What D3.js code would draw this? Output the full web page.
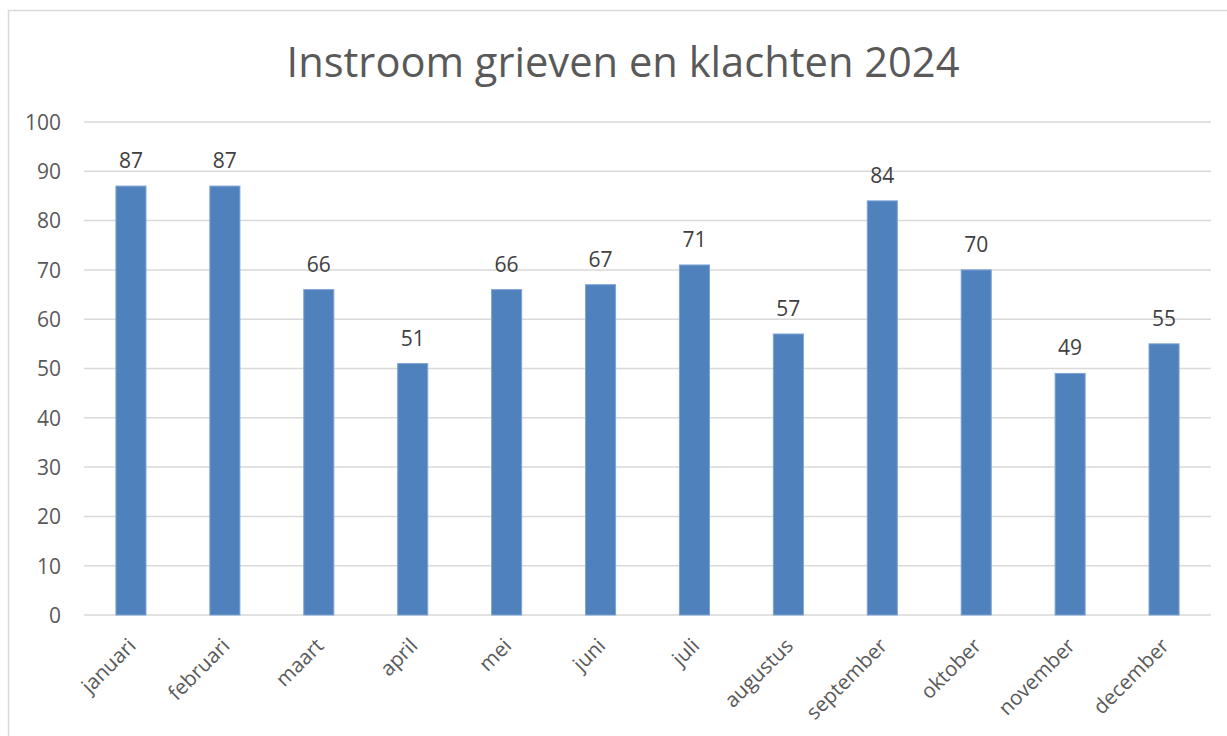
<!DOCTYPE html>
<html><head><meta charset="utf-8">
<script src="https://cdn.jsdelivr.net/npm/d3@7"></script>
<style>body{margin:0;background:#fff;}svg{display:block;}</style>
</head><body>
<svg id="c" width="1227" height="736"></svg>
<script>
const title = "Instroom grieven en klachten 2024";
const months = ["januari","februari","maart","april","mei","juni","juli","augustus","september","oktober","november","december"];
const values = [87,87,66,51,66,67,71,57,84,70,49,55];
const yTicks = [0,10,20,30,40,50,60,70,80,90,100];

(function(){
const svg = d3.select("#c");
const font = "'Open Sans', sans-serif";
// chart border
svg.append("rect").attr("x",8.5).attr("y",10.5).attr("width",1240).attr("height",740)
  .attr("fill","#fff").attr("stroke","#d9d9d9").attr("stroke-width",1.5);

const pLeft=84, pRight=1211, pTop=122, pBottom=615;
const x = d3.scaleBand().domain(months).range([pLeft,pRight]).paddingInner(0.68).paddingOuter(0.34);
const y = d3.scaleLinear().domain([0,100]).range([pBottom,pTop]);

// gridlines
svg.append("g").selectAll("line").data(yTicks).join("line")
  .attr("x1",pLeft).attr("x2",pRight).attr("y1",d=>y(d)).attr("y2",d=>y(d))
  .attr("stroke","#d9d9d9").attr("stroke-width",1.5);

// y axis labels
const yAxis = d3.axisLeft(y).tickValues(yTicks).tickSize(0).tickPadding(0);
const gy = svg.append("g").attr("transform",`translate(61,0)`).call(yAxis);
gy.select(".domain").remove();
gy.selectAll("text").attr("font-family",font).attr("font-size",21).attr("fill","#595959").attr("dy","0.35em");

// bars
svg.append("g").selectAll("rect").data(values).join("rect")
  .attr("x",(d,i)=>x(months[i])).attr("width",x.bandwidth())
  .attr("y",d=>y(d)).attr("height",d=>y(0)-y(d))
  .attr("fill","#4f81bd").attr("stroke","#7fa3d2").attr("stroke-width",1);

// data labels
svg.append("g").selectAll("text").data(values).join("text")
  .attr("x",(d,i)=>x(months[i])+x.bandwidth()/2).attr("y",d=>y(d)-18)
  .attr("text-anchor","middle").attr("font-family",font).attr("font-size",21).attr("fill","#404040")
  .text(d=>d);

// x axis labels
const xAxis = d3.axisBottom(x).tickSize(0).tickPadding(0);
const gx = svg.append("g").attr("transform",`translate(0,${pBottom})`).call(xAxis);
gx.select(".domain").remove();
gx.selectAll("text").attr("font-family",font).attr("font-size",20.5).attr("fill","#595959")
  .attr("text-anchor","end").attr("y",0).attr("x",0).attr("dy","0.7em")
  .attr("transform","translate(-4,22) rotate(-45)");

// title
const t = svg.append("text").attr("x",623).attr("y",77).attr("text-anchor","middle")
  .attr("font-family",font).attr("font-size",42).attr("fill","#595959").text(title);
const w = t.node().getComputedTextLength();
if (Math.abs(w-673)>4) t.attr("textLength",673).attr("lengthAdjust","spacingAndGlyphs");
})();
</script>
</body></html>
